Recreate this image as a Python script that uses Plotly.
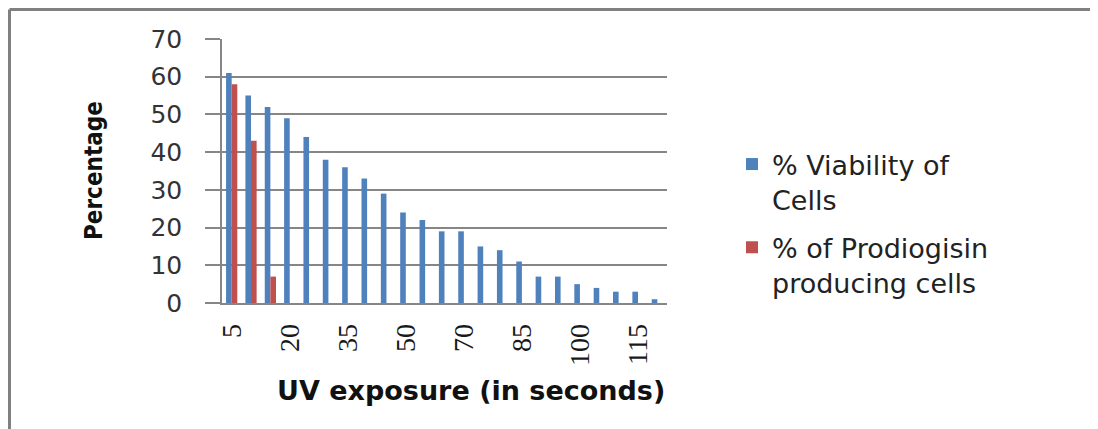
import plotly.graph_objects as go

categories = ["5", "10", "15", "20", "25", "30", "35", "40", "45", "50", "55", "60",
              "70", "75", "80", "85", "90", "95", "100", "105", "110", "115", "120"]
viability = [61, 55, 52, 49, 44, 38, 36, 33, 29, 24, 22, 19, 19, 15, 14, 11, 7, 7, 5, 4, 3, 3, 1]
prodigiosin = [58, 43, 7] + [None] * 20
x_tick_labels = ["5", "20", "35", "50", "70", "85", "100", "115"]
y_ticks = [0, 10, 20, 30, 40, 50, 60, 70]

BLUE = "#4F81BD"
RED = "#C0504D"
GRID = "#868686"

OFF = 8  # page body margin
W, H = 1098, 429
# plot area in page pixels: x 222..667, y 39..303
L, T = 222 - OFF, 39 - OFF
R = W - (667 - OFF)
B = H - (303 - OFF)
pw, ph = W - L - R, H - T - B

def px_x(p):
    return (p - OFF - L) / pw

def px_y(p):
    return (H - B - (p - OFF)) / ph

fig = go.Figure()
fig.add_trace(go.Bar(x=categories, y=viability, name="% Viability of<br>Cells",
                     marker=dict(color=BLUE, line=dict(width=0)), legendgroup="a"))
fig.add_trace(go.Bar(x=categories, y=prodigiosin, name="% of Prodiogisin<br>producing cells",
                     marker=dict(color=RED, line=dict(width=0)), legendgroup="b"))

n = len(categories)
boundaries = [i - 0.5 for i in range(n + 1)]

fig.update_layout(
    width=W, height=H,
    margin=dict(l=L, r=R, t=T, b=B, pad=0),
    paper_bgcolor="white", plot_bgcolor="white",
    barmode="group", bargap=0.42, bargroupgap=0.0,
    font=dict(family="DejaVu Sans, Verdana, sans-serif", color="#222222"),
    xaxis=dict(
        type="category", categoryorder="array", categoryarray=categories,
        range=[-0.5, n - 0.5],
        tickmode="array", tickvals=x_tick_labels, ticktext=x_tick_labels,
        tickangle=-90, ticks="", ticklabelstandoff=8,
        tickfont=dict(family="Liberation Serif, Times New Roman, serif", size=28, color="#1a1a1a"),
        showline=True, linecolor=GRID, linewidth=1.5, showgrid=False, zeroline=False,
    ),
    xaxis2=dict(
        overlaying="x", range=[-0.5, n - 0.5], side="bottom",
        tickmode="array", tickvals=boundaries, showticklabels=False,
        ticks="outside", ticklen=12, tickwidth=1.5, tickcolor=GRID,
        showgrid=False, zeroline=False, showline=False,
    ),
    yaxis=dict(
        range=[0, 70], tickmode="array", tickvals=y_ticks,
        ticks="outside", ticklen=15, tickwidth=1.5, tickcolor=GRID,
        ticklabelstandoff=18,
        tickfont=dict(family="DejaVu Sans, Verdana, sans-serif", size=25, color="#333333"),
        showgrid=True, gridcolor=GRID, gridwidth=1.5,
        showline=True, linecolor=GRID, linewidth=1.5, zeroline=False,
    ),
    legend=dict(
        x=px_x(732), y=px_y(140), xanchor="left", yanchor="top",
        font=dict(family="DejaVu Sans, Verdana, sans-serif", size=27, color="#222222"),
        valign="top", tracegroupgap=10, bgcolor="rgba(0,0,0,0)",
    ),
    showlegend=True,
    annotations=[
        dict(text="<b>Percentage</b>", textangle=-90, xref="paper", yref="paper",
             x=px_x(94), y=px_y(171), xanchor="center", yanchor="middle", showarrow=False,
             font=dict(family="Liberation Sans Narrow, DejaVu Sans Condensed, Arial Narrow, sans-serif",
                       size=24, color="#111111")),
        dict(text="<b>UV exposure (in seconds)</b>", xref="paper", yref="paper",
             x=px_x(471), y=px_y(390), xanchor="center", yanchor="middle", showarrow=False,
             font=dict(family="DejaVu Sans, Verdana, sans-serif", size=27, color="#111111")),
    ],
    shapes=[
        dict(type="line", xref="paper", yref="paper",
             x0=px_x(9.5), x1=px_x(9.5), y0=px_y(9.5), y1=px_y(460),
             line=dict(color="#808080", width=3)),
        dict(type="line", xref="paper", yref="paper",
             x0=px_x(9.5), x1=px_x(1120), y0=px_y(9.5), y1=px_y(9.5),
             line=dict(color="#808080", width=3)),
    ],
)

fig.write_html("out.html")
